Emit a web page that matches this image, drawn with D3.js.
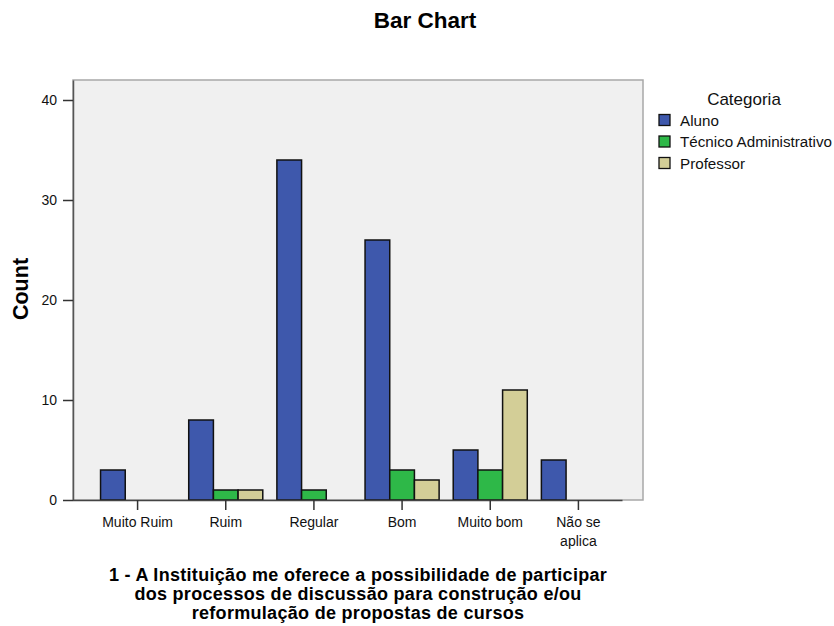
<!DOCTYPE html>
<html>
<head>
<meta charset="utf-8">
<script src="https://cdn.jsdelivr.net/npm/d3@7"></script>
<style>
  html, body { margin: 0; padding: 0; background: #fff; }
  svg { display: block; font-family: "Liberation Sans", Arial, sans-serif; }
</style>
</head>
<body>
<svg id="chart" width="834" height="626"></svg>
<script>
const categories = ["Muito Ruim", "Ruim", "Regular", "Bom", "Muito bom", "Não se aplica"];
const seriesNames = ["Aluno", "Técnico Administrativo", "Professor"];
const aluno = [3, 8, 34, 26, 5, 4];
const tecnico = [0, 1, 1, 3, 3, 0];
const professor = [0, 1, 0, 2, 11, 0];
const yTicks = [0, 10, 20, 30, 40];
const colors = ["#3E58AC", "#2EB848", "#D3CE97"];
const chartTitle = "Bar Chart";
const yTitle = "Count";
const xTitleLines = [
  "1 - A Instituição me oferece a possibilidade de participar",
  "dos processos de discussão para construção e/ou",
  "reformulação de propostas de cursos"
];
const legendTitle = "Categoria";

const values = [aluno, tecnico, professor];
const svg = d3.select("#chart");

const plot = { left: 73, top: 80, right: 643, bottom: 500 };

const x = d3.scaleBand().domain(categories).range([93.5, 622.5]).paddingInner(0.16).paddingOuter(0.08);
const x1 = d3.scaleBand().domain(seriesNames).range([0, x.bandwidth()]).padding(0);
const y = d3.scaleLinear().domain([0, 42]).range([plot.bottom, plot.top]);

// plot background
svg.append("rect")
  .attr("x", plot.left).attr("y", plot.top)
  .attr("width", plot.right - plot.left).attr("height", plot.bottom - plot.top)
  .attr("fill", "#F0F0F0").attr("stroke", "#A8A8A8").attr("stroke-width", 1.5);

// bars
const data = [];
categories.forEach((c, i) => {
  seriesNames.forEach((s, j) => {
    if (values[j][i] > 0) data.push({ c, s, v: values[j][i], j });
  });
});
svg.append("g").selectAll("rect").data(data).join("rect")
  .attr("x", d => x(d.c) + x1(d.s))
  .attr("y", d => y(d.v))
  .attr("width", x1.bandwidth())
  .attr("height", d => y(0) - y(d.v))
  .attr("fill", d => colors[d.j])
  .attr("stroke", "#111").attr("stroke-width", 1.5);

// y axis
const yAxis = d3.axisLeft(y).tickValues(yTicks).tickSize(10).tickSizeOuter(0).tickPadding(6);
const gy = svg.append("g").attr("transform", `translate(${plot.left},0)`).call(yAxis);
gy.select(".domain").attr("stroke", "#555").attr("stroke-width", 1.5);
gy.selectAll(".tick line").attr("stroke", "#333").attr("stroke-width", 1.5);
gy.selectAll(".tick text").attr("font-size", 14).attr("fill", "#111")
  .attr("font-family", "Liberation Sans, Arial, sans-serif");

// x axis
const xAxis = d3.axisBottom(x).tickSize(10).tickSizeOuter(0).tickPadding(7);
const gx = svg.append("g").attr("transform", `translate(0,${plot.bottom})`).call(xAxis);
gx.select(".domain").attr("d", `M${plot.left},0.5H${x.range()[1]}`).attr("stroke", "#444").attr("stroke-width", 1.5);
gx.selectAll(".tick line").attr("stroke", "#333").attr("stroke-width", 1.5);
gx.selectAll(".tick text").attr("font-size", 14).attr("fill", "#111")
  .attr("font-family", "Liberation Sans, Arial, sans-serif")
  .each(function(d) {
    const t = d3.select(this);
    if (d === "Não se aplica") {
      t.text(null);
      t.append("tspan").attr("x", 0).attr("dy", "0.71em").text("Não se");
      t.append("tspan").attr("x", 0).attr("dy", "1.35em").text("aplica");
      t.attr("dy", null);
    }
  });

// title
svg.append("text").attr("x", 425).attr("y", 28).attr("text-anchor", "middle")
  .attr("font-size", 22.5).attr("font-weight", "bold").attr("fill", "#000").text(chartTitle);

// y title
svg.append("text").attr("transform", "translate(28,289) rotate(-90)").attr("text-anchor", "middle")
  .attr("font-size", 21.5).attr("font-weight", "bold").attr("fill", "#000").text(yTitle);

// x title
svg.append("g").selectAll("text").data(xTitleLines).join("text")
  .attr("x", 358).attr("y", (d, i) => 581 + i * 19)
  .attr("text-anchor", "middle").attr("font-size", 18).attr("letter-spacing", 0.3)
  .attr("font-weight", "bold").attr("fill", "#000")
  .text(d => d);

// legend
const lg = svg.append("g");
lg.append("text").attr("x", 744).attr("y", 105).attr("text-anchor", "middle")
  .attr("font-size", 17).attr("fill", "#111").text(legendTitle);
const items = lg.selectAll("g.item").data(seriesNames).join("g").attr("class", "item")
  .attr("transform", (d, i) => `translate(659,${120 + i * 21.5})`);
items.append("rect").attr("x", 0).attr("y", -5.5).attr("width", 11).attr("height", 11)
  .attr("fill", (d, i) => colors[i]).attr("stroke", "#111").attr("stroke-width", 1.3);
items.append("text").attr("x", 21).attr("y", 5.5).attr("font-size", 15.2).attr("fill", "#111").text(d => d);
</script>
</body>
</html>
